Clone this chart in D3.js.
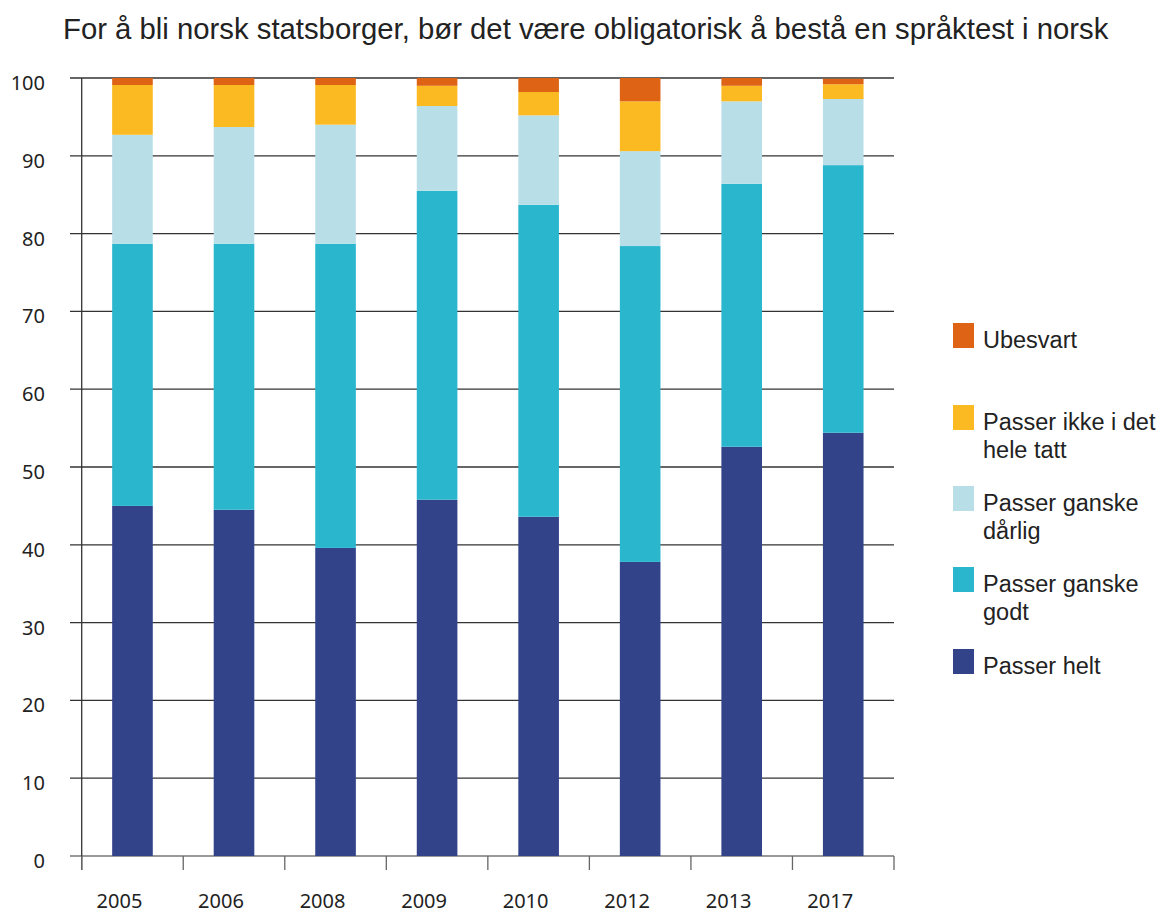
<!DOCTYPE html>
<html>
<head>
<meta charset="utf-8">
<script src="https://cdn.jsdelivr.net/npm/d3@7"></script>
<style>
  body { margin: 0; background: #fff; }
  svg { display: block; }
</style>
</head>
<body>
<svg id="chart" width="1163" height="915"></svg>
<script>
// Data (percent)
const years = ['2005', '2006', '2008', '2009', '2010', '2012', '2013', '2017'];
const passerHelt      = [45.0, 44.5, 39.6, 45.8, 43.6, 37.8, 52.6, 54.4];
const passerGodt      = [33.7, 34.2, 39.1, 39.7, 40.1, 40.6, 33.8, 34.4];
const passerDarlig    = [14.0, 15.0, 15.3, 10.9, 11.5, 12.2, 10.6,  8.5];
const passerIkke      = [ 6.4,  5.4,  5.1,  2.6,  3.0,  6.4,  2.0,  1.9];
const ubesvart        = [ 0.9,  0.9,  0.9,  1.0,  1.8,  3.0,  1.0,  0.7];
const yTicks = [0, 10, 20, 30, 40, 50, 60, 70, 80, 90, 100];

const seriesKeys = ['helt', 'godt', 'darlig', 'ikke', 'ubesvart'];
const seriesLabels = {
  helt: ['Passer helt'],
  godt: ['Passer ganske', 'godt'],
  darlig: ['Passer ganske', 'dårlig'],
  ikke: ['Passer ikke i det', 'hele tatt'],
  ubesvart: ['Ubesvart']
};
const colors = {
  helt: '#334389',
  godt: '#2ab7ce',
  darlig: '#b8dfe8',
  ikke: '#fbba21',
  ubesvart: '#de6314'
};

// build table for d3.stack
const table = years.map((yr, i) => ({
  year: yr,
  helt: passerHelt[i],
  godt: passerGodt[i],
  darlig: passerDarlig[i],
  ikke: passerIkke[i],
  ubesvart: ubesvart[i]
}));

const svg = d3.select('#chart');
const plotLeft = 81.7, plotRight = 894, plotTop = 78, plotBottom = 856;

const x = d3.scaleBand().domain(years).range([plotLeft, plotRight]).paddingInner(0.6).paddingOuter(0.3);
const y = d3.scaleLinear().domain([0, 100]).range([plotBottom, plotTop]);

// Title
svg.append('text')
  .attr('x', 63).attr('y', 39)
  .attr('font-family', '"Liberation Sans", Arial, sans-serif')
  .attr('font-size', 29.3)
  .attr('fill', '#222')
  .text('For å bli norsk statsborger, bør det være obligatorisk å bestå en språktest i norsk');

// Gridlines + y labels
const yAxis = svg.append('g');
yTicks.forEach(t => {
  yAxis.append('line')
    .attr('x1', 70).attr('x2', plotRight)
    .attr('y1', y(t)).attr('y2', y(t))
    .attr('stroke', t === 0 ? '#777' : '#333')
    .attr('stroke-width', 1.3);
  yAxis.append('text')
    .attr('x', 45).attr('y', y(t) + 12)
    .attr('text-anchor', 'end')
    .attr('font-family', '"Noto Sans", "Open Sans", sans-serif')
    .attr('font-size', 20)
    .attr('fill', '#222')
    .text(t);
});

// Stacked bars
const stack = d3.stack().keys(seriesKeys);
const layers = stack(table);

svg.append('g')
  .selectAll('g')
  .data(layers)
  .join('g')
  .attr('fill', d => colors[d.key])
  .selectAll('rect')
  .data(d => d)
  .join('rect')
  .attr('x', d => x(d.data.year))
  .attr('width', x.bandwidth())
  .attr('y', d => y(d[1]))
  .attr('height', d => y(d[0]) - y(d[1]));

// Y axis line
svg.append('line')
  .attr('x1', plotLeft).attr('x2', plotLeft)
  .attr('y1', plotTop).attr('y2', 870)
  .attr('stroke', '#333').attr('stroke-width', 1.3);

// X axis ticks at band edges
const step = x.step();
d3.range(years.length + 1).forEach(i => {
  const xx = plotLeft + i * step;
  svg.append('line')
    .attr('x1', xx).attr('x2', xx)
    .attr('y1', plotBottom).attr('y2', 870)
    .attr('stroke', '#666').attr('stroke-width', 1.3);
});

// Year labels
svg.append('g')
  .selectAll('text')
  .data(years)
  .join('text')
  .attr('x', d => x(d) + x.bandwidth() / 2 - 13)
  .attr('y', 908)
  .attr('text-anchor', 'middle')
  .attr('font-family', '"Noto Sans", "Open Sans", sans-serif')
  .attr('font-size', 20)
  .attr('fill', '#222')
  .text(d => d);

// Legend (top to bottom: ubesvart ... helt)
const legendOrder = ['ubesvart', 'ikke', 'darlig', 'godt', 'helt'];
const legendY = [323, 405, 486, 567, 649];
const legend = svg.append('g');
legendOrder.forEach((k, i) => {
  legend.append('rect')
    .attr('x', 953).attr('y', legendY[i])
    .attr('width', 21).attr('height', 25)
    .attr('fill', colors[k]);
  const txt = legend.append('text')
    .attr('x', 983).attr('y', legendY[i] + 25)
    .attr('font-family', '"Liberation Sans", Arial, sans-serif')
    .attr('font-size', 23.5)
    .attr('fill', '#222');
  seriesLabels[k].forEach((line, j) => {
    txt.append('tspan')
      .attr('x', 983)
      .attr('dy', j === 0 ? 0 : 28)
      .text(line);
  });
});
</script>
</body>
</html>
